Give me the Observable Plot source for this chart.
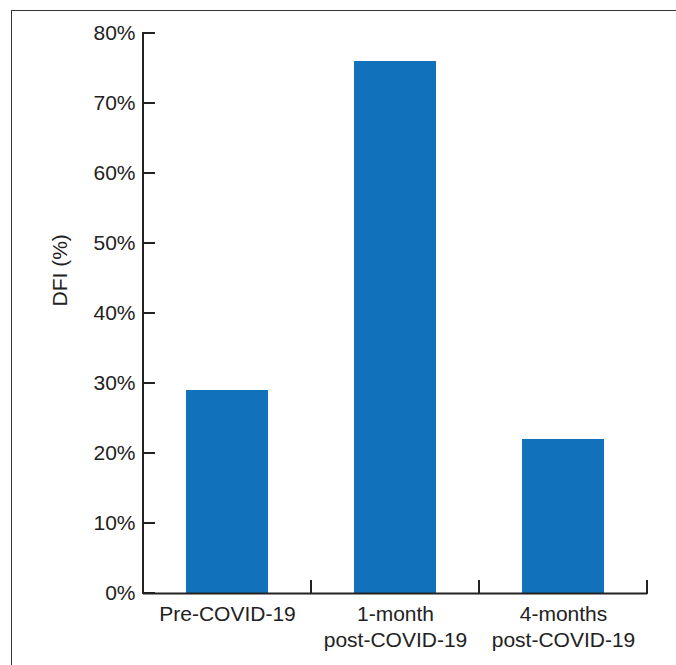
<!DOCTYPE html>
<html>
<head>
<meta charset="utf-8">
<script src="https://cdn.jsdelivr.net/npm/d3@7"></script>
<script src="https://cdn.jsdelivr.net/npm/@observablehq/plot@0.6"></script>
<style>
  html, body { margin: 0; padding: 0; background: #fff; }
  #wrap { position: relative; width: 676px; height: 665px; overflow: hidden; }
  #border { position: absolute; left: 11px; top: 10px; right: -2px; bottom: -2px;
            border-left: 1.5px solid #333; border-top: 1.5px solid #333; pointer-events: none; }
</style>
</head>
<body>
<div id="wrap"><div id="border"></div></div>
<script>
const categories = ["Pre-COVID-19", "1-month\npost-COVID-19", "4-months\npost-COVID-19"];
const values = [29, 76, 22];
const yTicks = [0, 10, 20, 30, 40, 50, 60, 70, 80];
const yLabel = "DFI (%)";
const barColor = "#1172bb";

const data = categories.map((c, i) => ({category: c, value: values[i]}));

const plot = Plot.plot({
  width: 676,
  height: 665,
  marginLeft: 143,
  marginRight: 29,
  marginTop: 33,
  marginBottom: 72,
  style: {fontFamily: "Liberation Sans, Arial, sans-serif", fontSize: "21px", color: "#222", background: "#fff"},
  x: {domain: categories, paddingInner: 0.512, paddingOuter: 0.256},
  y: {domain: [0, 80]},
  marks: [
    Plot.barY(data, {x: "category", y: "value", fill: barColor}),
    Plot.axisY({ticks: yTicks, tickSize: 0, tickPadding: 8, tickFormat: d => d + "%",
      fontSize: 21, fill: "#222", label: null}),
    Plot.axisX({tickSize: 0, tickPadding: 9, fontSize: 21, lineHeight: 1.24, fill: "#222", label: null}),
    Plot.ruleY([0], {stroke: "#222", strokeWidth: 2}),
    Plot.text([yLabel], {frameAnchor: "left", dx: -83, dy: -7, rotate: -90, fontSize: 21, fill: "#222"})
  ]
});

// axis line and ticks, positioned with the plot's own scales
const xs = plot.scale("x");
const ys = plot.scale("y");
const y0 = ys.apply(0);
const xLeft = xs.range[0];
const g = d3.select(plot).append("g").attr("stroke", "#222").attr("stroke-width", 2).attr("fill", "none");
g.append("line").attr("x1", xLeft).attr("x2", xLeft).attr("y1", ys.apply(80) - 1).attr("y2", y0 + 1);
yTicks.forEach(t => {
  const ty = ys.apply(t);
  g.append("line").attr("x1", xLeft).attr("x2", xLeft + 12).attr("y1", ty).attr("y2", ty);
});
categories.forEach(c => {
  const bx = xs.apply(c) + xs.bandwidth + xs.step * xs.paddingInner / 2;
  g.append("line").attr("x1", bx).attr("x2", bx).attr("y1", y0 + 1).attr("y2", y0 - 13);
});

document.getElementById("wrap").prepend(plot);
</script>
</body>
</html>
